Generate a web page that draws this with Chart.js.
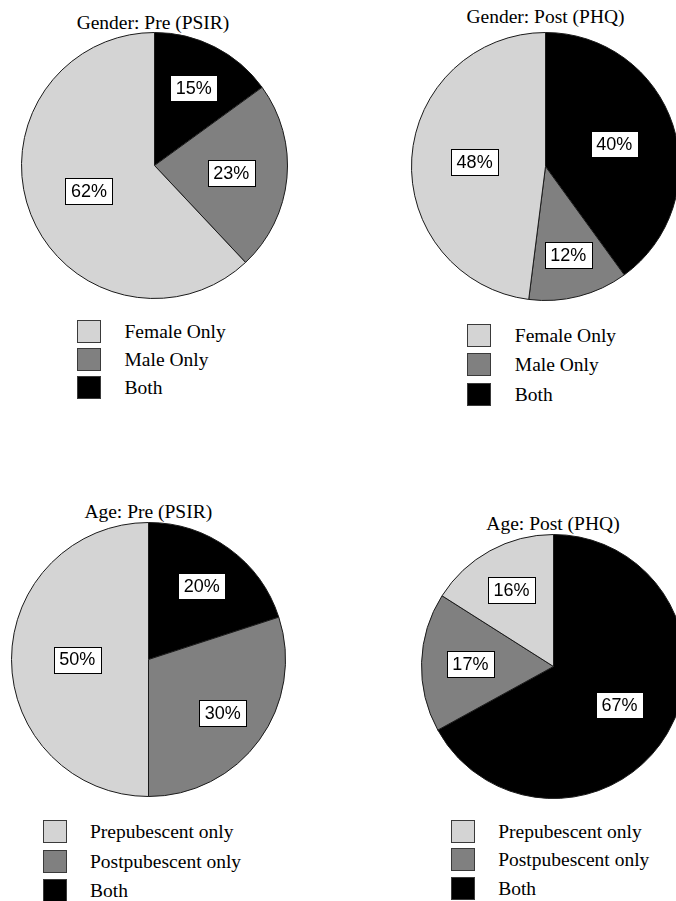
<!DOCTYPE html>
<html>
<head>
<meta charset="utf-8">
<script src="https://cdn.jsdelivr.net/npm/chart.js@4/dist/chart.umd.min.js"></script>
<style>
  html, body { margin: 0; padding: 0; background: #fff; }
  body { width: 676px; height: 901px; position: relative; overflow: hidden; }
  .title {
    position: absolute; white-space: nowrap;
    font-family: "Liberation Serif", "Times New Roman", serif;
    font-size: 19.5px; line-height: 20px; color: #000;
    transform: translateX(-50%);
  }
  .pie { position: absolute; }
  .legend-row {
    position: absolute; display: flex; align-items: center; height: 23px;
    font-family: "Liberation Serif", "Times New Roman", serif;
    font-size: 19.5px; line-height: 23px; color: #000; white-space: nowrap;
  }
  .swatch {
    width: 24px; height: 23px; box-sizing: border-box;
    border: 1px solid #3a3a3a; margin-right: 23.5px; flex: none;
  }
</style>
</head>
<body>
<script>
// Categories listed clockwise from 12 o'clock
const genderCategories = ['Both', 'Male Only', 'Female Only'];
const ageCategories = ['Both', 'Postpubescent only', 'Prepubescent only'];

// Percentages per panel
const genderPre = [15, 23, 62];
const genderPost = [40, 12, 48];
const agePre = [20, 30, 50];
const agePost = [67, 17, 16];

// Panel titles
const panelTitles = ['Gender: Pre (PSIR)', 'Gender: Post (PHQ)', 'Age: Pre (PSIR)', 'Age: Post (PHQ)'];

// Fill colours: Both, second group, first group
const sliceColors = ['#000000', '#808080', '#d4d4d4'];

// Layout of each panel
const panels = [
  { title: panelTitles[0], labels: genderCategories, values: genderPre,
    cx: 154, cy: 165, r: 133, titleX: 153, titleTop: 12.7,
    legendX: 77, legendRows: [331, 359.3, 387.8], labelRadius: [0.65, 0.58, 0.53] },
  { title: panelTitles[1], labels: genderCategories, values: genderPost,
    cx: 545, cy: 166, r: 134, titleX: 545.5, titleTop: 7.4,
    legendX: 467.3, legendRows: [335.3, 364.7, 394], labelRadius: [0.54, 0.68, 0.53] },
  { title: panelTitles[2], labels: ageCategories, values: agePre,
    cx: 148.5, cy: 659.5, r: 137, titleX: 148.3, titleTop: 502.4,
    legendX: 42.5, legendRows: [831.7, 861, 890.2], labelRadius: [0.66, 0.67, 0.52] },
  { title: panelTitles[3], labels: ageCategories, values: agePost,
    cx: 553, cy: 666.5, r: 132, titleX: 553, titleTop: 513.6,
    legendX: 450.7, legendRows: [831.3, 859.7, 888], labelRadius: [0.58, 0.63, 0.66] }
];

// Boxed percentage labels placed at each slice's mid angle
const sliceLabels = {
  id: 'sliceLabels',
  afterDatasetsDraw(chart, args, opts) {
    const ctx = chart.ctx;
    const meta = chart.getDatasetMeta(0);
    const values = chart.data.datasets[0].data;
    ctx.save();
    ctx.font = '18px "Liberation Sans", Arial, sans-serif';
    ctx.textAlign = 'center';
    ctx.textBaseline = 'middle';
    meta.data.forEach((arc, i) => {
      const p = arc.getProps(['x', 'y', 'startAngle', 'endAngle', 'outerRadius'], true);
      const mid = (p.startAngle + p.endAngle) / 2;
      const d = p.outerRadius * opts.radius[i];
      const x = p.x + Math.cos(mid) * d;
      const y = p.y + Math.sin(mid) * d;
      const text = values[i] + '%';
      const w = Math.round(ctx.measureText(text).width + 11);
      const h = 26;
      const bx = Math.round(x - w / 2) + 0.5;
      const by = Math.round(y - h / 2) + 0.5;
      ctx.fillStyle = '#ffffff';
      ctx.fillRect(bx, by, w, h);
      ctx.strokeStyle = '#000000';
      ctx.lineWidth = 1;
      ctx.strokeRect(bx, by, w, h);
      ctx.fillStyle = '#000000';
      ctx.fillText(text, x, y + 1);
    });
    ctx.restore();
  }
};

panels.forEach(pn => {
  const title = document.createElement('div');
  title.className = 'title';
  title.textContent = pn.title;
  title.style.left = pn.titleX + 'px';
  title.style.top = pn.titleTop + 'px';
  document.body.appendChild(title);

  const size = pn.r * 2 + 1;
  const canvas = document.createElement('canvas');
  canvas.className = 'pie';
  canvas.width = size;
  canvas.height = size;
  canvas.style.width = size + 'px';
  canvas.style.height = size + 'px';
  canvas.style.left = (pn.cx - size / 2) + 'px';
  canvas.style.top = (pn.cy - size / 2) + 'px';
  document.body.appendChild(canvas);

  const chart = new Chart(canvas, {
    type: 'pie',
    data: {
      labels: pn.labels,
      datasets: [{
        data: pn.values,
        backgroundColor: sliceColors,
        borderColor: '#1a1a1a',
        borderWidth: 1,
        hoverOffset: 0
      }]
    },
    options: {
      responsive: false,
      animation: false,
      events: [],
      layout: { padding: 0 },
      plugins: {
        legend: { display: false },
        title: { display: false },
        tooltip: { enabled: false },
        sliceLabels: { radius: pn.labelRadius }
      }
    },
    plugins: [sliceLabels]
  });

  // Legend rows, listed in reverse of the clockwise order
  const n = chart.data.labels.length;
  for (let k = 0; k < n; k++) {
    const i = n - 1 - k;
    const row = document.createElement('div');
    row.className = 'legend-row';
    row.style.left = pn.legendX + 'px';
    row.style.top = (pn.legendRows[k] - 11.5) + 'px';
    const sw = document.createElement('span');
    sw.className = 'swatch';
    sw.style.background = chart.data.datasets[0].backgroundColor[i];
    const tx = document.createElement('span');
    tx.textContent = chart.data.labels[i];
    row.appendChild(sw);
    row.appendChild(tx);
    document.body.appendChild(row);
  }
});
</script>
</body>
</html>
